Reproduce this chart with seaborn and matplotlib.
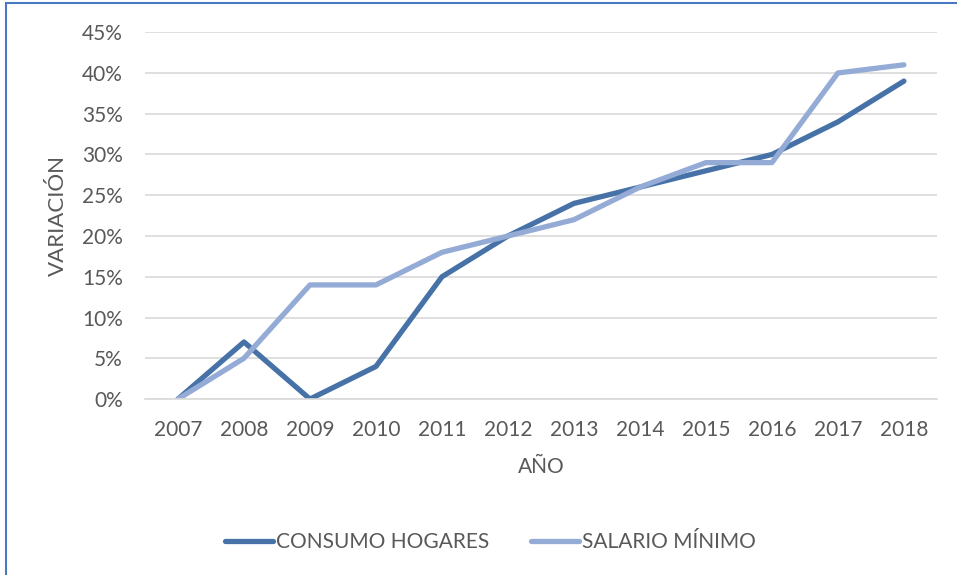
import pandas as pd
import matplotlib.pyplot as plt
import seaborn as sns
from matplotlib.patches import Rectangle
from matplotlib.ticker import PercentFormatter

years = [2007, 2008, 2009, 2010, 2011, 2012, 2013, 2014, 2015, 2016, 2017, 2018]
consumo_hogares = [0, 7, 0, 4, 15, 20, 24, 26, 28, 30, 34, 39]
salario_minimo = [0, 5, 14, 14, 18, 20, 22, 26, 29, 29, 40, 41]
series_names = ["CONSUMO HOGARES", "SALARIO MÍNIMO"]
colors = ["#4672A8", "#94ABD6"]
text_color = "#595959"

df = pd.DataFrame({
    "year": [str(y) for y in years] * 2,
    "value": consumo_hogares + salario_minimo,
    "serie": [series_names[0]] * len(years) + [series_names[1]] * len(years),
})

sns.set_theme(style="white")
plt.rcParams['font.family'] = ['Lato', 'DejaVu Sans']

fig = plt.figure(figsize=(9.57, 5.75), dpi=100)
ax = fig.add_axes([0.1515, 0.306, 0.8275, 0.638])

sns.lineplot(data=df, x="year", y="value", hue="serie", palette=colors,
             linewidth=3.8, ax=ax, sort=False,
             solid_capstyle="round", solid_joinstyle="round")

ax.set_ylim(0, 45)
ax.set_xlim(-0.5, len(years) - 0.5)
ax.set_yticks(range(0, 50, 5))
ax.yaxis.set_major_formatter(PercentFormatter(decimals=0))
ax.grid(axis="y", color="#D9D9D9", linewidth=1.2)
ax.set_axisbelow(True)
for s in ["top", "right", "left"]:
    ax.spines[s].set_visible(False)
ax.spines["bottom"].set_color("#D9D9D9")
ax.spines["bottom"].set_linewidth(1.2)
ax.tick_params(axis="both", length=0, labelsize=15, labelcolor=text_color)
ax.tick_params(axis="x", pad=15)
ax.tick_params(axis="y", pad=16)

ax.set_xlabel("AÑO", fontsize=15, color=text_color, labelpad=12)
ax.set_ylabel("VARIACIÓN", fontsize=16, color=text_color, labelpad=10)

ax.legend(loc="center", bbox_to_anchor=(0.436, -0.39), ncol=2, frameon=False,
          fontsize=15, handlelength=2.3, columnspacing=2.0, handletextpad=0.15,
          labelcolor=text_color)

fig.patches.append(Rectangle((6 / 957, -0.01), 1.02, 1 - 3 / 575 + 0.01,
                             transform=fig.transFigure, fill=False,
                             edgecolor="#4A78C2", linewidth=1.5))

fig.savefig("out.png", dpi=100)
